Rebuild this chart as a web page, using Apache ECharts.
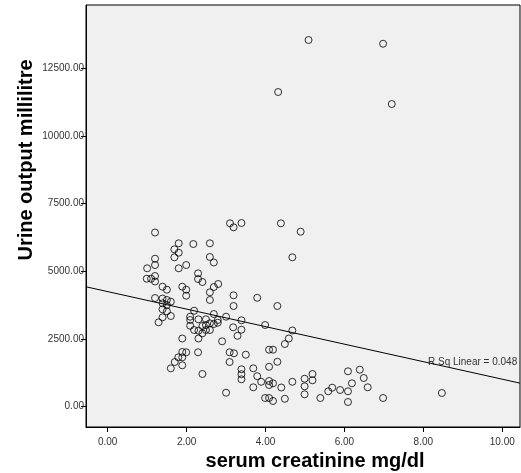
<!DOCTYPE html>
<html>
<head>
<meta charset="utf-8">
<script src="https://cdn.jsdelivr.net/npm/echarts@6/dist/echarts.min.js"></script>
<style>
html,body{margin:0;padding:0;background:#fff;}
#chart{width:521px;height:473px;}
</style>
</head>
<body>
<div id="chart"></div>
<script>
const creatinine = [5.09,6.98,4.32,7.20,3.10,3.19,3.39,4.39,4.89,1.20,
1.80,1.69,1.80,1.69,2.17,2.59,2.59,2.69,4.68,1.20,
1.20,1.00,1.80,1.99,2.29,2.29,2.40,1.20,0.99,1.10,
1.20,1.39,1.50,1.89,1.99,1.99,2.59,2.69,2.80,2.59,
1.20,1.39,1.50,1.60,1.39,1.50,1.39,1.50,1.60,1.39,
1.29,3.19,3.19,3.79,4.30,2.19,2.09,2.09,2.30,2.09,
2.19,2.30,2.40,2.40,2.49,2.49,2.59,2.59,2.49,2.69,
2.69,2.79,2.79,3.00,3.39,3.18,3.39,3.29,3.99,4.68,
4.59,4.49,1.89,2.30,2.90,3.09,3.20,3.50,3.09,4.09,
4.19,1.89,1.99,2.29,1.89,1.79,1.70,1.89,1.60,2.40,
3.39,3.39,3.39,3.69,3.79,4.09,4.30,3.69,3.89,4.09,
4.09,4.19,4.40,4.68,3.00,3.99,4.09,4.19,4.49,4.99,
4.99,4.99,5.19,5.19,5.39,5.59,5.69,5.89,6.09,6.09,
6.09,6.19,6.39,6.49,6.59,6.98,8.47];
const urineOutput = [13546,13409,11625,11182,6775,6627,6786,6775,6465,6435,
6036,5814,5689,5519,6010,6036,5530,5327,5519,5467,
5234,5113,5113,5234,4928,4717,4606,4828,4728,4728,
4625,4433,4322,4433,4322,4100,4226,4422,4533,3942,
4015,3997,3942,3879,3820,3757,3598,3524,3350,3302,
3118,4115,3720,4023,3720,3546,3325,3203,3229,2992,
2833,2807,2981,2711,3229,3018,3081,2833,2833,3424,
3055,3203,3103,3325,3192,2933,2844,2619,3018,2815,
2519,2316,2519,2519,2416,2010,1973,1921,1651,2106,
2106,2021,2010,2010,1825,1825,1651,1529,1418,1208,
1382,1201,1012,1418,1127,1474,1659,717,920,949,
802,864,709,920,517,321,321,211,292,1034,
754,458,1208,975,321,569,702,617,1308,569,
174,864,1367,1060,717,321,506];
const fitX = [-0.55, 10.45];
const fitY = [4430, 870];
const xTicks = [0,2,4,6,8,10];
const yTicks = [0,2500,5000,7500,10000,12500];
const rSqLabel = 'R Sq Linear = 0.048';
const xTitle = 'serum creatinine mg/dl';
const yTitle = 'Urine output millilitre';

const chart = echarts.init(document.getElementById('chart'));
const scatterData = creatinine.map((x,i)=>[x, urineOutput[i]]);
const fitData = fitX.map((x,i)=>[x, fitY[i]]);
chart.setOption({
  animation:false,
  backgroundColor:'#ffffff',
  grid:{left:86,top:5,right:1,bottom:46,show:true,backgroundColor:'#f0f0f0',borderColor:'#000',borderWidth:1},
  xAxis:{type:'value',min:-0.55,max:10.45,
    axisLine:{show:true,onZero:false,lineStyle:{color:'#000',width:1}},
    axisTick:{show:true,customValues:xTicks,length:5,lineStyle:{color:'#000'}},
    axisLabel:{customValues:xTicks,formatter:v=>v.toFixed(2),fontFamily:'Arial, Liberation Sans',fontSize:10,color:'#333',margin:10},
    splitLine:{show:false}},
  yAxis:{type:'value',min:-750,max:14840,
    axisLine:{show:true,onZero:false,lineStyle:{color:'#000',width:1}},
    axisTick:{show:true,customValues:yTicks,length:5,lineStyle:{color:'#000'}},
    axisLabel:{customValues:yTicks,formatter:v=>v.toFixed(2),fontFamily:'Arial, Liberation Sans',fontSize:10,color:'#333',margin:2},
    splitLine:{show:false}},
  graphic:[
    {type:'text',x:315,y:451,style:{text:xTitle,font:'bold 20px Arial, "Liberation Sans"',fill:'#000',align:'center',verticalAlign:'top'}},
    {type:'text',x:16,y:160,rotation:Math.PI/2,style:{text:yTitle,font:'bold 20px Arial, "Liberation Sans"',fill:'#000',align:'center',verticalAlign:'top'}},
    {type:'text',x:428,y:362,style:{text:rSqLabel,font:'10px Arial, "Liberation Sans"',fill:'#333',verticalAlign:'middle'}}
  ],
  series:[
    {type:'line',data:fitData,symbol:'none',silent:true,lineStyle:{color:'#000',width:1},z:1},
    {type:'scatter',data:scatterData,symbol:'circle',symbolSize:7,silent:true,
     itemStyle:{color:'rgba(0,0,0,0)',borderColor:'#000',borderWidth:1},z:2}
  ]
});
</script>
</body>
</html>
